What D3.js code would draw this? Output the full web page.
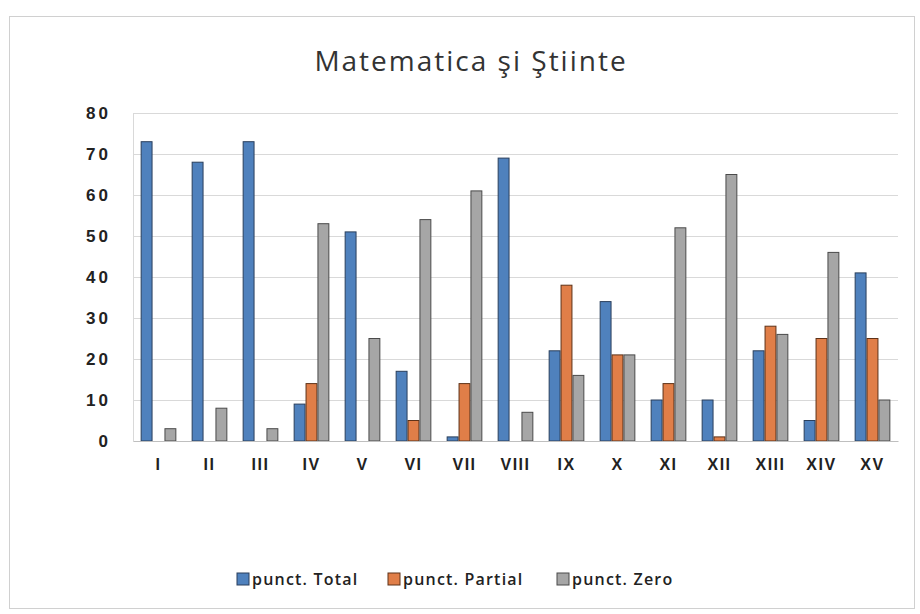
<!DOCTYPE html>
<html>
<head>
<meta charset="utf-8">
<script src="https://cdn.jsdelivr.net/npm/d3@7"></script>
<style>
  body { margin: 0; background: #fff; }
  svg { display: block; font-family: "Open Sans", sans-serif; }
</style>
</head>
<body>
<div id="chart"></div>
<script>
// categories (clase) and values per series
var categories = ["I", "II", "III", "IV", "V", "VI", "VII", "VIII", "IX", "X", "XI", "XII", "XIII", "XIV", "XV"];
var seriesNames = ["punct. Total", "punct. Partial", "punct. Zero"];
var punctTotal   = [73, 68, 73,  9, 51, 17,  1, 69, 22, 34, 10, 10, 22,  5, 41];
var punctPartial = [ 0,  0,  0, 14,  0,  5, 14,  0, 38, 21, 14,  1, 28, 25, 25];
var punctZero    = [ 3,  8,  3, 53, 25, 54, 61,  7, 16, 21, 52, 65, 26, 46, 10];
var yTicks = [0, 10, 20, 30, 40, 50, 60, 70, 80];

var colors = ["#4f81bd", "#e07e48", "#a6a6a6"];
var strokes = ["#2a3f5c", "#5e3218", "#4a4a4a"];

var width = 920,
  height = 614,
  margin = {top: 113, right: 22, bottom: 173, left: 133};

var innerW = width - margin.left - margin.right,
  innerH = height - margin.top - margin.bottom;

var rows = categories.map(function (c, i) {
  return {cat: c, values: [punctTotal[i], punctPartial[i], punctZero[i]]};
});

var svg = d3.select("#chart").append("svg")
  .attr("width", width)
  .attr("height", height);

// chart frame
svg.append("rect")
  .attr("x", 9.5)
  .attr("y", 16.5)
  .attr("width", 905)
  .attr("height", 592)
  .attr("fill", "#fff")
  .attr("stroke", "#d0d0d0");

svg.append("text")
  .attr("x", 471)
  .attr("y", 71)
  .attr("text-anchor", "middle")
  .attr("font-size", 28)
  .attr("letter-spacing", 2)
  .attr("fill", "#333")
  .text("Matematica şi Ştiinte");

var g = svg.append("g")
  .attr("transform", "translate(" + margin.left + "," + margin.top + ")");

var x0 = d3.scaleBand()
  .domain(categories)
  .range([0, innerW])
  .paddingInner(0.3)
  .paddingOuter(0.15);

var x1 = d3.scaleBand()
  .domain(d3.range(seriesNames.length))
  .range([0, x0.bandwidth()]);

var y = d3.scaleLinear()
  .domain([0, 80])
  .range([innerH, 0]);

// gridlines
g.append("g")
  .selectAll("line")
  .data(yTicks.slice(1))
  .enter().append("line")
  .attr("x1", 0)
  .attr("x2", innerW)
  .attr("y1", function (d) { return Math.round(y(d)) + 0.5; })
  .attr("y2", function (d) { return Math.round(y(d)) + 0.5; })
  .attr("stroke", "#d9d9d9");

// y axis
var yAxis = g.append("g")
  .call(d3.axisLeft(y).tickValues(yTicks).tickSize(0).tickPadding(22));
yAxis.select(".domain").attr("stroke", "#d9d9d9");
yAxis.selectAll("text")
  .attr("font-size", 17)
  .attr("font-weight", "bold")
  .attr("letter-spacing", 3)
  .attr("fill", "#222");

// bars
var groups = g.selectAll(".grp")
  .data(rows)
  .enter().append("g")
  .attr("class", "grp")
  .attr("transform", function (d) { return "translate(" + x0(d.cat) + ",0)"; });

groups.selectAll("rect")
  .data(function (d) {
    return d.values.map(function (v, i) { return {i: i, v: v}; })
      .filter(function (e) { return e.v > 0; });
  })
  .enter().append("rect")
  .attr("x", function (d) { return x1(d.i) + 0.5; })
  .attr("width", x1.bandwidth() - 1)
  .attr("y", function (d) { return y(d.v); })
  .attr("height", function (d) { return innerH - y(d.v); })
  .attr("fill", function (d) { return colors[d.i]; })
  .attr("stroke", function (d) { return strokes[d.i]; })
  .attr("stroke-width", 1);

// x axis
var xAxis = g.append("g")
  .attr("transform", "translate(0," + innerH + ")")
  .call(d3.axisBottom(x0).tickSize(0).tickPadding(18));
xAxis.select(".domain").attr("stroke", "#bfbfbf");
xAxis.selectAll("text")
  .attr("font-size", 16)
  .attr("font-weight", "bold")
  .attr("letter-spacing", 1.5)
  .attr("fill", "#222");

// legend
var legendX = [237, 388, 557];
var legend = svg.append("g")
  .selectAll("g")
  .data(seriesNames)
  .enter().append("g")
  .attr("transform", function (d, i) { return "translate(" + legendX[i] + ",573)"; });

legend.append("rect")
  .attr("width", 12)
  .attr("height", 12)
  .attr("fill", function (d, i) { return colors[i]; })
  .attr("stroke", function (d, i) { return strokes[i]; });

legend.append("text")
  .attr("x", 15)
  .attr("y", 12)
  .attr("font-size", 16)
  .attr("font-weight", 600)
  .attr("letter-spacing", 1.2)
  .attr("fill", "#222")
  .text(function (d) { return d; });
</script>
</body>
</html>
